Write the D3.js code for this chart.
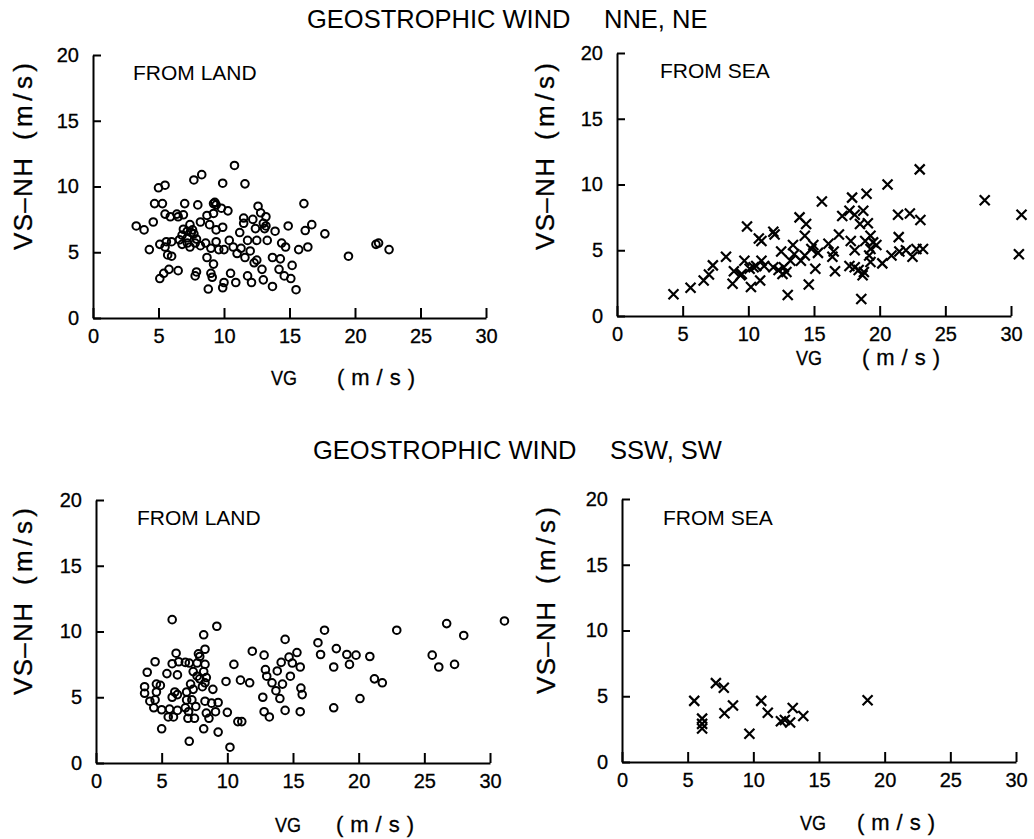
<!DOCTYPE html>
<html>
<head>
<meta charset="utf-8">
<title>Geostrophic wind</title>
<script src="https://cdn.jsdelivr.net/npm/d3@7"></script>
<style>
  body { margin: 0; background: #fff; }
  svg { display: block; }
  text { font-family: "Liberation Sans", Arial, sans-serif; fill: #000; }
  .axis path, .axis line { stroke: #000; stroke-width: 2; }
  .axis text { font-size: 20px; stroke: #000; stroke-width: 0.3; }
  .lab { stroke: #000; stroke-width: 0.3; }
</style>
</head>
<body>
<svg id="chart" width="1034" height="839"></svg>
<script>
// ---- data (VG, VS-NH pairs) ----
var neLandVG = [10.8,7.7,8.3,5.0,5.5,9.9,11.6,4.7,5.3,7.0,8.0,9.2,9.4,9.8,10.3,5.5,5.9,6.4,6.9,6.5,8.7,9.2,12.6,12.8,13.2,11.5,12.2,
  3.3,3.9,4.6,7.4,7.6,6.9,8.2,8.9,9.4,9.9,11.5,11.2,12.4,13.1,13.9,14.9,6.8,7.2,7.7,4.3,5.1,5.6,6.0,5.5,6.8,7.2,7.4,7.8,8.2,8.6,
  9.0,9.4,9.6,10.0,10.4,10.7,11.0,11.3,11.8,11.6,12.0,12.5,13.3,12.3,12.5,5.7,6.0,13.7,14.3,14.4,14.7,5.1,5.4,5.8,6.5,7.8,7.9,
  9.0,9.1,9.2,8.8,9.9,10.0,10.5,10.9,11.8,12.1,12.9,13.0,13.7,14.2,14.6,8.7,7.2,6.6,9.3,13.0,13.2,7.5,7.9,
  16.1,16.7,16.2,17.7,15.7,16.4,15.2,15.1,15.5,19.5,21.6,21.8,22.6];
var neLandVS = [11.6,10.5,10.9,9.9,10.1,10.25,10.2,8.7,8.7,8.7,8.6,8.7,8.6,8.35,8.15,7.9,7.7,7.9,7.85,7.7,7.8,7.95,8.5,8.0,7.7,7.6,7.5,
  7.0,6.7,7.3,7.1,6.7,6.75,7.3,7.1,6.7,6.9,7.2,6.5,6.8,6.8,6.6,7.0,6.3,6.1,6.4,5.2,5.6,5.8,5.8,5.4,5.6,5.7,5.4,5.7,5.5,5.7,
  5.3,5.8,5.2,5.2,5.9,5.4,4.9,5.3,5.9,4.6,5.1,5.9,5.9,4.2,4.4,4.8,4.7,4.6,4.5,5.7,5.4,3.0,3.4,3.7,3.6,3.2,3.5,
  3.4,3.1,4.1,2.2,2.3,2.7,3.4,2.7,3.2,2.7,3.7,2.9,2.4,3.7,3.2,4.6,6.6,5.95,8.8,7.2,7.0,6.5,6.0,
  8.7,7.1,6.65,6.4,5.2,5.4,4.0,3.0,2.15,4.7,5.6,5.7,5.2];

var neSeaVG = [4.3,5.6,6.6,7.0,7.3,8.3,8.8,8.9,9.4,9.5,9.7,9.9,10.1,10.2,10.4,10.6,10.8,11.0,10.9,11.0,11.2,11.9,12.0,11.9,12.3,
  12.5,12.6,12.7,12.9,13.0,13.2,13.5,13.4,13.9,14.4,14.3,14.0,14.3,14.6,14.8,14.95,15.1,
  15.6,17.9,19.0,20.6,23.05,17.15,17.7,18.1,18.75,18.5,19.1,21.4,22.3,23.1,16.9,16.1,16.5,16.4,16.6,17.8,18.1,18.9,19.3,19.5,
  19.3,19.75,19.2,19.3,17.7,18.1,18.4,18.8,18.7,18.6,20.2,20.9,21.45,21.5,22.0,22.5,22.8,23.3,28.0,30.8,30.6,15.3];
var neSeaVS = [1.65,2.15,2.7,3.15,3.85,4.5,2.45,3.4,3.1,3.2,4.2,6.8,3.6,2.2,3.7,3.8,5.9,5.7,2.7,4.2,3.8,6.4,6.2,3.7,3.5,
  4.9,3.2,3.7,3.35,1.6,4.2,4.7,5.4,7.5,7.0,6.1,4.2,4.6,2.4,5.1,5.4,3.6,
  8.7,9.0,9.3,10.0,11.15,7.6,8.0,7.7,8.0,7.0,7.05,7.7,7.8,7.3,6.2,5.5,4.9,4.5,3.4,5.7,5.0,5.7,6.1,5.6,
  5.1,5.4,4.6,4.1,3.8,3.7,3.5,3.35,3.1,1.3,4.0,4.6,6.0,4.9,5.0,4.5,5.1,5.1,8.8,7.7,4.7,4.8];

var swLandVG = [5.8,9.2,8.2,8.3,7.8,7.9,6.1,4.5,3.9,5.8,6.3,6.8,7.1,7.7,8.3,7.4,8.2,5.4,6.2,7.7,7.9,8.4,8.3,8.1,7.2,7.4,
  10.5,9.9,11.0,11.7,11.9,12.8,12.9,13.0,13.4,13.8,14.1,14.4,14.2,13.7,14.0,12.7,14.4,12.8,13.2,3.7,3.7,4.6,4.9,4.6,4.1,4.4,
  5.0,4.5,6.0,6.2,5.8,6.9,7.3,6.9,7.6,6.8,6.2,5.6,5.5,5.9,7.05,7.0,7.5,8.3,8.8,9.3,8.4,8.6,9.1,10.0,8.2,9.3,5.0,7.1,10.2,
  10.8,11.1,8.9,14.8,
  17.4,16.9,17.1,15.3,14.7,14.95,15.55,15.6,15.7,15.55,18.3,18.1,18.1,19.1,19.3,19.8,20.85,20.1,21.2,21.8,22.9,26.7,28.0,
  25.6,26.1,27.3,31.1];
var swLandVS = [10.9,10.4,9.75,8.65,8.3,8.1,8.35,7.7,6.9,7.55,7.7,7.65,7.6,7.6,7.5,6.95,6.95,6.8,6.7,6.6,6.4,6.5,6.1,5.8,6.0,5.6,
  7.5,6.2,6.3,6.1,8.5,8.2,7.1,6.6,6.1,7.0,7.65,9.4,6.0,5.5,4.9,5.0,4.0,3.9,3.5,5.8,5.3,6.0,5.9,5.4,4.7,4.2,
  4.05,4.8,5.4,5.2,5.0,5.4,4.8,4.8,4.3,4.2,4.0,4.1,3.5,3.5,3.9,3.4,3.4,4.7,4.55,4.6,3.8,3.4,3.9,3.85,2.6,2.35,2.6,1.65,1.2,
  3.15,3.15,5.6,6.6,
  10.1,9.15,8.25,8.4,8.05,7.6,7.3,5.7,5.2,3.9,8.7,7.3,4.2,8.25,7.5,8.2,8.1,4.9,6.4,6.1,10.1,10.6,9.7,
  8.2,7.3,7.5,10.8];

var swSeaVG = [5.5,6.1,6.1,6.1,7.15,7.75,7.8,8.45,9.7,10.6,11.1,12.1,12.4,12.8,13.0,13.8,18.7];
var swSeaVS = [4.65,3.3,2.9,2.55,6.0,5.65,3.7,4.3,2.15,4.65,3.75,3.1,3.2,3.0,4.1,3.5,4.7];

var xTicks = [0, 5, 10, 15, 20, 25, 30];
var yTicks = [0, 5, 10, 15, 20];
var titles = ["GEOSTROPHIC WIND", "GEOSTROPHIC WIND"];
var sectors = ["NNE, NE", "SSW, SW"];
var sources = ["FROM LAND", "FROM SEA", "FROM LAND", "FROM SEA"];

// ---- layout ----
var panels = [
  {vg: neLandVG, vs: neLandVS, mark: "o", x0: 93, x1: 486, y0: 318, y1: 55,
   src: [133, 80], vgLab: [271, 337, 385], vsLab: [32, 250]},
  {vg: neSeaVG, vs: neSeaVS, mark: "x", x0: 617, x1: 1011, y0: 316, y1: 53,
   src: [660, 78], vgLab: [796, 862, 365], vsLab: [554, 250]},
  {vg: swLandVG, vs: swLandVS, mark: "o", x0: 96, x1: 490, y0: 763, y1: 500,
   src: [137, 525], vgLab: [275, 336, 832], vsLab: [32, 695]},
  {vg: swSeaVG, vs: swSeaVS, mark: "x", x0: 622, x1: 1016, y0: 762, y1: 499,
   src: [663, 525], vgLab: [800, 857, 830], vsLab: [555, 694]}
];

var svg = d3.select("#chart");
svg.append("rect").attr("width", 1034).attr("height", 839).attr("fill", "#fff");

// headings
[[307, 604, 28], [313, 610, 459]].forEach(function(p, i) {
  svg.append("text").attr("x", p[0]).attr("y", p[2]).style("font-size", "25.5px").text(titles[i]);
  svg.append("text").attr("x", p[1]).attr("y", p[2]).style("font-size", "25.5px").text(sectors[i]);
});

function word(g, txt, x, y, len, size, adj) {
  return g.append("text").attr("class", "lab").attr("x", x).attr("y", y)
    .attr("textLength", len).attr("lengthAdjust", adj || "spacing")
    .style("font-size", size).text(txt);
}

panels.forEach(function(p, i) {
  var x = d3.scaleLinear().domain([0, 30]).range([p.x0, p.x1]);
  var y = d3.scaleLinear().domain([0, 20]).range([p.y0, p.y1]);
  var g = svg.append("g");

  g.append("g").attr("class", "axis")
    .attr("transform", "translate(0," + p.y0 + ")")
    .call(d3.axisBottom(x).tickValues(xTicks).tickSizeInner(-10).tickSizeOuter(0).tickPadding(11));
  g.append("g").attr("class", "axis")
    .attr("transform", "translate(" + p.x0 + ",0)")
    .call(d3.axisLeft(y).tickValues(yTicks).tickSizeInner(-8).tickSizeOuter(0).tickPadding(14));
  g.selectAll(".axis text").attr("font-family", null).attr("font-size", null);

  var pts = p.vg.map(function(v, k) { return [v, p.vs[k]]; });
  if (p.mark === "o") {
    g.selectAll("circle.pt").data(pts).enter().append("circle")
      .attr("class", "pt")
      .attr("cx", function(d) { return x(d[0]); })
      .attr("cy", function(d) { return y(d[1]); })
      .attr("r", 3.8)
      .attr("fill", "none").attr("stroke", "#000").attr("stroke-width", 2);
  } else {
    g.selectAll("path.pt").data(pts).enter().append("path")
      .attr("class", "pt")
      .attr("transform", function(d) { return "translate(" + x(d[0]) + "," + y(d[1]) + ")"; })
      .attr("d", "M-5,-5L5,5M-5,5L5,-5")
      .attr("stroke", "#000").attr("stroke-width", 2.2);
  }

  g.append("text").attr("x", p.src[0]).attr("y", p.src[1]).style("font-size", "21px").text(sources[i]);

  // x title
  word(g, "VG", p.vgLab[0], p.vgLab[2], 26, "21px", "spacingAndGlyphs");
  word(g, "(m/s)", p.vgLab[1], p.vgLab[2], 78, "22px");

  // y title (rotated)
  var yt = g.append("g").attr("transform", "translate(" + p.vsLab[0] + "," + p.vsLab[1] + ") rotate(-90)");
  word(yt, "VS\u2013NH", 0, 0, 92, "26px");
  word(yt, "(m/s)", 110, 0, 77, "26px");
});
</script>
</body>
</html>
